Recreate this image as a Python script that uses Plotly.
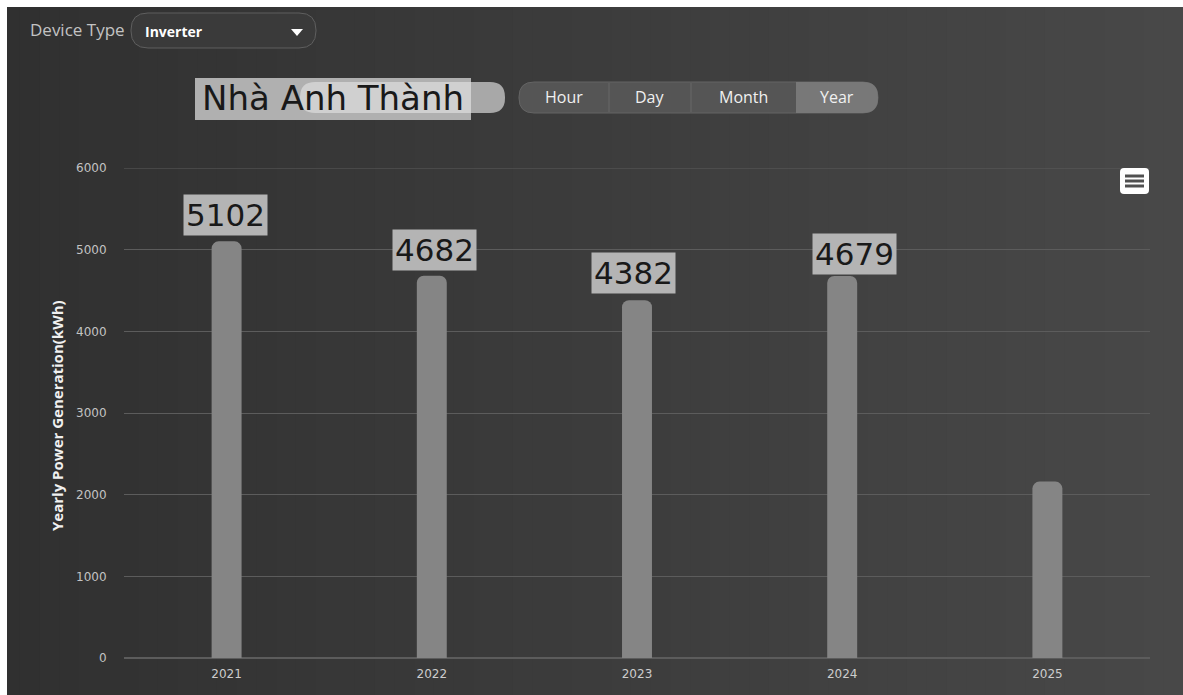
import plotly.graph_objects as go

# ---- data ----
years = ["2021", "2022", "2023", "2024", "2025"]
generation = [5102, 4682, 4382, 4679, 2160]
label_values = [5102, 4682, 4382, 4679, None]
y_ticks = [0, 1000, 2000, 3000, 4000, 5000, 6000]
buttons = ["Hour", "Day", "Month", "Year"]

# ---- style / layout ----
W, H = 1183, 695
PL, PR, PT, PB = 124, 1150, 168, 658   # plot area in pixels
label_yshift = [5, 5, 6, 1, 0]
label_xshift = [-1, 3, -4, 12, 0]

def px(x):
    return (x - PL) / (PR - PL)

def py(y):
    return (PB - y) / (PB - PT)

def rrect(x0, y0, x1, y1, r, fill, line=None, lw=0, round_left=True, round_right=True):
    rl = r if round_left else 0
    rr = r if round_right else 0
    def P(x, y):
        return f"{px(x):.5f},{py(y):.5f}"
    d = f"M {P(x0 + rl, y0)} L {P(x1 - rr, y0)} "
    d += f"Q {P(x1, y0)} {P(x1, y0 + rr)} " if rr else ""
    d += f"L {P(x1, y1 - rr)} "
    d += f"Q {P(x1, y1)} {P(x1 - rr, y1)} " if rr else ""
    d += f"L {P(x0 + rl, y1)} "
    d += f"Q {P(x0, y1)} {P(x0, y1 - rl)} " if rl else ""
    d += f"L {P(x0, y0 + rl)} "
    d += f"Q {P(x0, y0)} {P(x0 + rl, y0)} " if rl else ""
    d += "Z"
    return dict(type="path", xref="paper", yref="paper", path=d, fillcolor=fill,
                line=dict(color=line if line else "rgba(0,0,0,0)", width=lw), layer="above")

shapes = []
# background gradient strips
N = 60
c0, c1 = 0x30, 0x48
for i in range(N):
    xa = i * W / N
    xb = (i + 1) * W / N + 1
    c = int(round(c0 + (c1 - c0) * i / (N - 1)))
    shapes.append(dict(type="rect", xref="paper", yref="paper",
                       x0=px(xa), x1=px(xb), y0=py(H + 2), y1=py(-2),
                       fillcolor=f"rgb({c},{c},{c})", line=dict(width=0), layer="below"))
# white borders top and left
shapes.append(dict(type="rect", xref="paper", yref="paper", x0=px(-2), x1=px(W + 2),
                   y0=py(7), y1=py(-2), fillcolor="white", line=dict(width=0), layer="above"))
shapes.append(dict(type="rect", xref="paper", yref="paper", x0=px(-2), x1=px(7),
                   y0=py(H + 2), y1=py(-2), fillcolor="white", line=dict(width=0), layer="above"))

# device type dropdown
shapes.append(rrect(131, 13, 316, 48, 17, "rgb(58,58,58)", "rgb(95,95,95)", 1))
shapes.append(dict(type="path", xref="paper", yref="paper",
                   path=f"M {px(291):.5f},{py(29):.5f} L {px(303):.5f},{py(29):.5f} L {px(297):.5f},{py(36):.5f} Z",
                   fillcolor="white", line=dict(width=0), layer="above"))

# title highlight box and pill
shapes.append(dict(type="rect", xref="paper", yref="paper", x0=px(195), x1=px(471),
                   y0=py(120), y1=py(78), fillcolor="rgb(176,176,176)", line=dict(width=0), layer="above"))
shapes.append(rrect(300, 82, 505, 113, 15, "rgb(168,168,168)"))
shapes.append(rrect(300, 82, 471, 113, 15, "rgb(208,208,208)", round_right=False))

# period buttons
shapes.append(rrect(519, 82, 878, 113, 15, "rgb(85,85,85)", "rgb(100,100,100)", 1))
shapes.append(rrect(796, 82, 878, 113, 15, "rgb(120,120,120)", round_left=False))
for sx in [609, 691]:
    shapes.append(dict(type="line", xref="paper", yref="paper", x0=px(sx), x1=px(sx),
                       y0=py(83), y1=py(112), line=dict(color="rgb(105,105,105)", width=1), layer="above"))

# menu icon
shapes.append(rrect(1120, 168, 1149, 194, 4, "white"))
for ly in [176, 181, 186]:
    shapes.append(dict(type="line", xref="paper", yref="paper", x0=px(1125), x1=px(1144),
                       y0=py(ly), y1=py(ly), line=dict(color="rgb(80,80,80)", width=3), layer="above"))

# top gridline (at the range edge)
shapes.append(dict(type="line", xref="paper", yref="y", x0=0, x1=1, y0=y_ticks[-1], y1=y_ticks[-1],
                   line=dict(color="rgb(92,92,92)", width=1), layer="below"))

annotations = []
ui_font = "Open Sans"
tick_font = "DejaVu Sans"
annotations.append(dict(xref="paper", yref="paper", x=px(28), y=py(30), xanchor="left", yanchor="middle",
                        text="Device Type", showarrow=False,
                        font=dict(family=ui_font, size=17, color="rgb(195,195,195)")))
annotations.append(dict(xref="paper", yref="paper", x=px(143), y=py(31), xanchor="left", yanchor="middle",
                        text="<b>Inverter</b>", showarrow=False,
                        font=dict(family=ui_font, size=14, color="white")))
annotations.append(dict(xref="paper", yref="paper", x=px(333), y=py(98), xanchor="center", yanchor="middle",
                        text="Nhà Anh Thành", showarrow=False,
                        font=dict(family="DejaVu Sans", size=34, color="rgb(25,25,25)")))
for name, cx in zip(buttons, [564, 650, 743, 837]):
    annotations.append(dict(xref="paper", yref="paper", x=px(cx), y=py(97), xanchor="center", yanchor="middle",
                            text=name, showarrow=False,
                            font=dict(family=ui_font, size=16, color="rgb(240,240,240)")))
annotations.append(dict(xref="paper", yref="paper", x=px(57), y=py(416), xanchor="center", yanchor="middle",
                        text="<b>Yearly Power Generation(kWh)</b>", textangle=-90, showarrow=False,
                        font=dict(family=ui_font, size=15, color="rgb(240,240,240)")))

# value labels
for i, v in enumerate(label_values):
    if v is None:
        continue
    annotations.append(dict(x=i, y=v, xref="x", yref="y", text=str(v), showarrow=False,
                            yanchor="bottom", xanchor="center",
                            yshift=label_yshift[i], xshift=label_xshift[i],
                            bgcolor="rgb(180,180,180)", borderpad=2,
                            font=dict(family="DejaVu Sans", size=31, color="rgb(25,25,25)")))

fig = go.Figure()
fig.add_trace(go.Bar(x=years, y=generation, width=0.146,
                     marker=dict(color="rgb(133,133,133)", cornerradius=7, line=dict(width=0)),
                     hoverinfo="x+y"))

fig.update_layout(
    width=W, height=H,
    margin=dict(l=PL, r=W - PR, t=PT, b=H - PB, pad=0),
    paper_bgcolor="rgb(60,60,60)", plot_bgcolor="rgba(0,0,0,0)",
    showlegend=False,
    shapes=shapes, annotations=annotations,
    xaxis=dict(type="category", range=[-0.5, 4.5], showgrid=False, zeroline=False,
               showline=False, ticks="outside", ticklen=5, tickcolor="rgba(0,0,0,0)",
               tickfont=dict(family=tick_font, size=12, color="rgb(205,205,205)"), fixedrange=True),
    yaxis=dict(range=[0, 6000], tickvals=y_ticks, showgrid=True, gridcolor="rgb(92,92,92)", gridwidth=1,
               zeroline=True, zerolinecolor="rgb(92,92,92)", showline=False,
               ticks="outside", ticklen=14, tickcolor="rgba(0,0,0,0)",
               tickfont=dict(family=tick_font, size=12, color="rgb(195,195,195)"), fixedrange=True),
)

fig.write_html("out.html", config={"displayModeBar": False})
